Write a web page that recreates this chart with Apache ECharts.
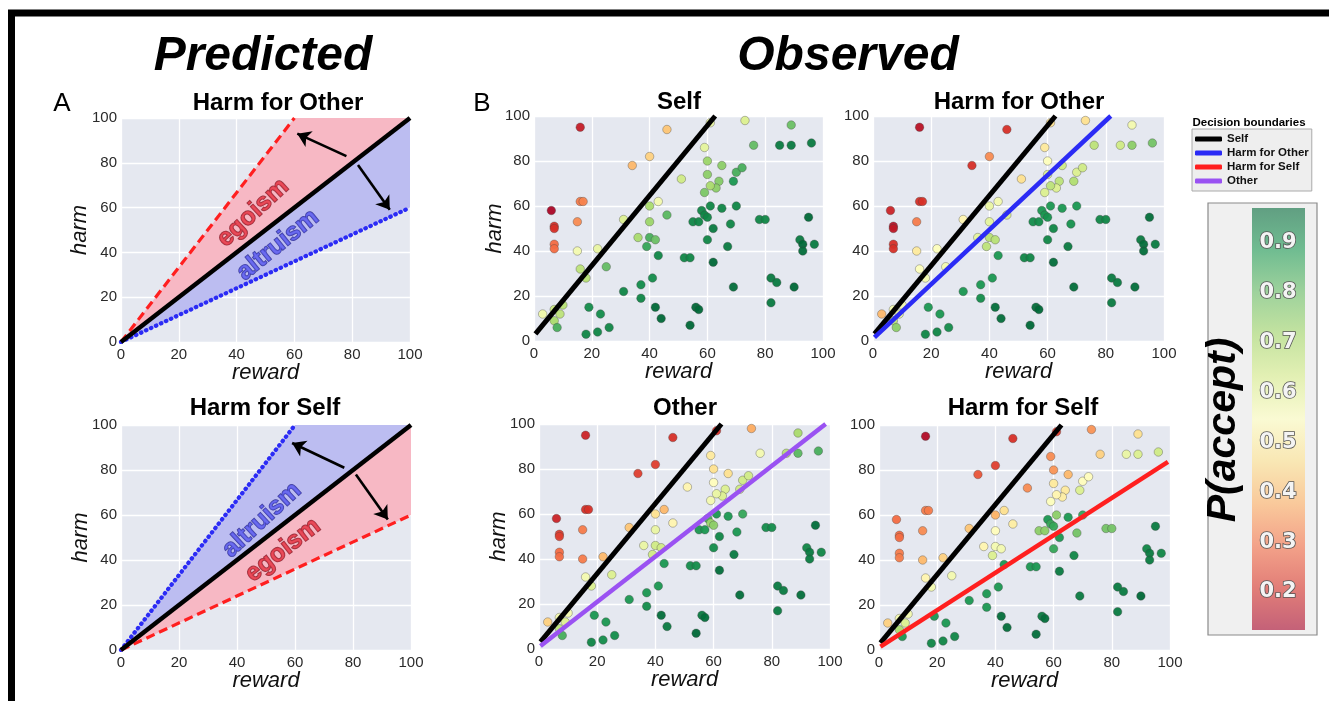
<!DOCTYPE html>
<html><head><meta charset="utf-8">
<script src="https://cdn.jsdelivr.net/npm/echarts@6/dist/echarts.min.js"></script>
<style>html,body{margin:0;padding:0;background:#fff}#c{width:1329px;height:701px}</style>
</head><body><div id="c"></div>
<script>
// ---------------- DATA ----------------
const reward = [16,46,40,34,51,16,17,43,40,46, 6,7,7,15,31,40,7,7,15,22, 36,40,42,39,43,16,18,25,31,37,
  41,37,42,44,3,7,10,9,7,8, 19,23,18,22,26,61,73,89,76,85, 89,96,59,60,65,60,70,72,64,63,
  61,59,69,61,65,70,58,59,60,55, 57,62,68,78,80,95,60,67,92,93, 93,97,52,54,62,69,82,84,90,82, 56,57,54];
const harm = [95,94,82,78,72,62,62,62,60,56, 58,51,50,53,54,53,43,41,40,41, 46,46,45,42,38,32,28,33,22,25,
  28,19,15,10,12,14,16,12,9,6, 15,12,3,4,6,97,98,96,87,87, 87,88,86,80,78,74,75,77,71,68,
  69,66,71,60,59,60,58,56,55,53, 53,50,52,54,54,55,45,42,45,43, 40,43,37,37,35,24,28,26,24,17, 15,14,7];
const pSelf = [.17,.40,.42,.38,.62,.30,.31,.55,.68,.78, .13,.20,.20,.32,.60,.70,.28,.28,.55,.57,
  .68,.80,.76,.82,.88,.65,.66,.77,.88,.87, .87,.88,.95,.93,.56,.63,.66,.65,.68,.80,
  .87,.87,.88,.88,.88,.57,.60,.76,.77,.90, .90,.90,.58,.70,.72,.72,.80,.80,.73,.72,
  .68,.74,.85,.88,.88,.88,.88,.88,.88,.88, .88,.90,.88,.88,.88,.93,.88,.90,.90,.93,
  .92,.90,.88,.88,.95,.92,.90,.90,.95,.90, .95,.95,.95];
const pHarmOther = [.15,.20,.32,.20,.45,.20,.20,.55,.57,.60, .18,.15,.16,.30,.50,.58,.20,.20,.47,.53,
  .58,.66,.66,.65,.85,.53,.55,.55,.85,.85, .85,.87,.92,.92,.38,.55,.55,.57,.65,.72,
  .85,.85,.88,.88,.87,.45,.45,.55,.65,.62, .72,.75,.47,.53,.62,.60,.60,.62,.65,.60,
  .65,.60,.67,.85,.85,.85,.85,.85,.86,.87, .87,.88,.86,.88,.88,.92,.88,.90,.90,.92,
  .92,.90,.88,.88,.92,.92,.90,.90,.92,.90, .92,.93,.93];
const pOther = [.18,.20,.22,.22,.50,.20,.20,.38,.45,.50, .18,.22,.22,.30,.40,.57,.28,.28,.30,.38,
  .57,.62,.62,.62,.85,.55,.60,.60,.85,.85, .85,.87,.92,.90,.42,.55,.55,.60,.65,.80,
  .85,.85,.88,.87,.87,.20,.36,.68,.55,.66, .78,.80,.47,.45,.45,.52,.62,.62,.60,.60,
  .57,.55,.62,.85,.85,.82,.80,.70,.72,.85, .85,.88,.85,.87,.87,.92,.87,.90,.88,.90,
  .90,.88,.87,.87,.92,.92,.90,.90,.92,.90, .90,.92,.93];
const pHarmSelf = [.14,.20,.22,.25,.32,.30,.30,.45,.37,.48, .28,.28,.28,.32,.40,.52,.30,.30,.38,.42,
  .50,.55,.55,.60,.85,.50,.55,.55,.85,.85, .85,.85,.92,.92,.42,.55,.55,.60,.68,.85,
  .85,.85,.88,.88,.88,.22,.33,.45,.42,.57, .60,.62,.32,.33,.38,.47,.52,.52,.47,.48,
  .50,.53,.60,.72,.85,.82,.85,.82,.82,.72, .72,.85,.75,.75,.75,.90,.82,.88,.88,.90,
  .90,.88,.85,.85,.90,.90,.90,.90,.93,.90, .90,.92,.92];

// observed decision boundaries (end points)
const boundarySelf = [[0.5,3.2],[62.7,100]];
const boundaryHarmOther = [[0.5,1.6],[81.7,100]];
const boundaryOther = [[0.5,1.3],[98.5,100]];
const boundaryHarmSelf = [[0.5,1.5],[99.3,83.6]];

// predicted boundaries (panel A)
const predSelf = [[0,0],[100,100]];
const predSteep = [[0,0],[60,100]];
const predShallow = [[0,0],[100,60]];
const regionSteep = [[0,0],[60,100],[100,100]];
const regionShallow = [[0,0],[100,100],[100,60]];
const arrowsA1 = [[[78,83],[61,93]], [[82,79],[93,59]]];
const arrowsA2 = [[[77,81],[59,92]], [[81,78],[92,58]]];
const regionNames = ['egoism','altruism'];
const labelPosA1 = [[45.7,57.6],[54.3,43.3]];
const labelPosA2 = [[55.9,44.4],[48.6,57.8]];

const legendNames = ['Self','Harm for Other','Harm for Self','Other'];
const cbarMin = 0.2, cbarMax = 0.9;
// --------------------------------------

const FONT = "'Liberation Sans', Arial, Helvetica, sans-serif";
const RdYlGn = ['#a50026','#d73027','#f46d43','#fdae61','#fee08b','#ffffbf','#d9ef8b','#a6d96a','#66bd63','#1a9850','#006837'];
const BG = '#e5e8f0';
const C_RED_FILL = '#f7b8c4', C_BLUE_FILL = '#bcbdf1';
const C_BLUE = '#2b2bf5', C_RED = '#ff1f1f', C_PURPLE = '#9a52f2';

const grids = [
  {left:121, top:118, width:289, height:224},
  {left:121, top:425, width:290, height:225},
  {left:534, top:116, width:289, height:225},
  {left:873, top:116, width:291, height:225},
  {left:539, top:424, width:291, height:225},
  {left:879, top:425, width:291, height:225},
  {left:1252, top:243, width:53, height:349}
];
const harmName = [true,true,true,false,true,false];
const harmGap = [30,29,28,0,29,0];

const xAxes = [], yAxes = [];
for (let i=0;i<6;i++){
  xAxes.push({type:'value', gridIndex:i, min:0, max:100, interval:20,
    axisLine:{show:false}, axisTick:{show:false},
    axisLabel:{fontSize:15, color:'#2a2a2a', margin:5, fontFamily:FONT},
    splitLine:{show:true, lineStyle:{color:'#fff', width:1.3}},
    name:'reward', nameLocation:'middle', nameGap:20, nameMoveOverlap:false,
    nameTextStyle:{fontSize:22, fontStyle:'italic', color:'#111', fontFamily:FONT}});
  yAxes.push({type:'value', gridIndex:i, min:0, max:100, interval:20,
    axisLine:{show:false}, axisTick:{show:false},
    axisLabel:{fontSize:15, color:'#2a2a2a', margin:4, fontFamily:FONT},
    splitLine:{show:true, lineStyle:{color:'#fff', width:1.3}},
    name: harmName[i] ? 'harm' : '', nameLocation:'middle', nameGap:harmGap[i], nameRotate:90, nameMoveOverlap:false,
    nameTextStyle:{fontSize:22, fontStyle:'italic', color:'#111', fontFamily:FONT}});
}
xAxes.push({type:'value', gridIndex:6, min:0, max:1, show:false});
yAxes.push({type:'value', gridIndex:6, min:cbarMin, max:cbarMax, interval:0.1, z:10,
  axisLine:{show:false}, axisTick:{show:false}, splitLine:{show:false},
  axisLabel:{inside:true, margin:26, align:'center', fontSize:21, fontWeight:'bold', fontFamily:"'DejaVu Sans', sans-serif",
    color:'#f4f4f4', textBorderColor:'#555', textBorderWidth:1.6, formatter:v=>v.toFixed(1)}});

const series = [];
function poly(gi, verts, color){
  series.push({type:'custom', xAxisIndex:gi, yAxisIndex:gi, data:verts, silent:true, z:1, clip:true,
    renderItem:(params, api)=>{
      if (params.dataIndex!==0) return null;
      return {type:'polygon', shape:{points:verts.map(v=>api.coord(v))}, style:{fill:color}};
    }});
}
function line(gi, pts, color, width, type, name, cap){
  series.push({type:'line', name:name, xAxisIndex:gi, yAxisIndex:gi, data:pts, symbol:'none', silent:true,
    clip:true, z:4, itemStyle:{color:color},
    lineStyle:{color:color, width:width, type:type||'solid', cap:cap||'butt'}});
}
function arrows(gi, arr){
  series.push({type:'lines', coordinateSystem:'cartesian2d', xAxisIndex:gi, yAxisIndex:gi, z:5, silent:true,
    data:arr.map(c=>({coords:c})), symbol:['none','arrow'], symbolSize:[1,13],
    lineStyle:{color:'#000', width:2.6, opacity:1}});
}
function textLabel(gi, pos, text, angle, fill, stroke){
  series.push({type:'scatter', xAxisIndex:gi, yAxisIndex:gi, data:[pos], symbolSize:1, z:6, silent:true,
    itemStyle:{color:'rgba(0,0,0,0)'},
    label:{show:true, position:'inside', formatter:text, rotate:angle, fontSize:25, fontWeight:'bold',
      fontFamily:FONT, color:fill, textBorderColor:stroke, textBorderWidth:1.3}});
}

// Panel A top: Harm for Other
poly(0, regionSteep, C_RED_FILL);
poly(0, regionShallow, C_BLUE_FILL);
line(0, predSteep, C_RED, 3.2, [9,5], 'predSteepA1');
line(0, predShallow, C_BLUE, 4.2, [0.5,5], 'predShallowA1', 'round');
line(0, predSelf, '#000', 4.5, 'solid', 'predSelfA1');
arrows(0, arrowsA1);
textLabel(0, labelPosA1[0], regionNames[0], 43, '#e3303e', '#7a1522');
textLabel(0, labelPosA1[1], regionNames[1], 39, '#5656ee', '#25258a');
// Panel A bottom: Harm for Self
poly(1, regionSteep, C_BLUE_FILL);
poly(1, regionShallow, C_RED_FILL);
line(1, predSteep, C_BLUE, 4.2, [0.5,5], 'predSteepA2', 'round');
line(1, predShallow, C_RED, 3.2, [9,5], 'predShallowA2');
line(1, predSelf, '#000', 4.5, 'solid', 'predSelfA2');
arrows(1, arrowsA2);
textLabel(1, labelPosA2[0], regionNames[0], 38, '#e3303e', '#7a1522');
textLabel(1, labelPosA2[1], regionNames[1], 43, '#5656ee', '#25258a');

// Observed panels
const probs = [pSelf, pHarmOther, pOther, pHarmSelf];
const scatterIdx = [];
for (let k=0;k<4;k++){
  scatterIdx.push(series.length);
  series.push({type:'scatter', xAxisIndex:k+2, yAxisIndex:k+2, z:2, silent:true,
    data: reward.map((x,i)=>[x, harm[i], probs[k][i]]), symbolSize:8.5,
    itemStyle:{opacity:0.95, borderColor:'rgba(70,70,70,0.55)', borderWidth:0.7}});
}
line(2, boundarySelf, '#000', 5, 'solid', 'Self');
line(3, boundarySelf, '#000', 5, 'solid', 'Self');
line(3, boundaryHarmOther, C_BLUE, 4.5, 'solid', 'Harm for Other');
line(4, boundarySelf, '#000', 5, 'solid', 'Self');
line(4, boundaryOther, C_PURPLE, 4.5, 'solid', 'Other');
line(5, boundarySelf, '#000', 5, 'solid', 'Self');
line(5, boundaryHarmSelf, C_RED, 4.5, 'solid', 'Harm for Self');

// colorbar gradient colours (RdYlGn, washed out)
function blend(hex, a){
  const r=parseInt(hex.substr(1,2),16), g=parseInt(hex.substr(3,2),16), b=parseInt(hex.substr(5,2),16);
  const m=v=>Math.round(a*v+(1-a)*242);
  return 'rgb('+m(r)+','+m(g)+','+m(b)+')';
}
const stops = RdYlGn.slice().reverse().map((c,i)=>({offset:i/(RdYlGn.length-1), color:blend(c,0.6)}));

const txt = (x,y,text,size,weight,style,extra)=>Object.assign({type:'text', x:x, y:y, silent:true,
  style:{text:text, align:'center', verticalAlign:'middle', fontSize:size, fontWeight:weight, fontStyle:style||'normal',
    fontFamily:FONT, fill:'#000'}}, extra||{});

const graphics = [
  {type:'rect', shape:{x:11.5, y:13, width:1400, height:800}, style:{fill:'none', stroke:'#000', lineWidth:7}, silent:true},
  txt(263,57,'Predicted',48,'bold','italic'),
  txt(848,57,'Observed',48,'bold','italic'),
  txt(62,104,'A',26,'normal'),
  txt(482,104,'B',26,'normal'),
  txt(278,103,'Harm for Other',24,'bold'),
  txt(265,408,'Harm for Self',24,'bold'),
  txt(679,102,'Self',24,'bold'),
  txt(1019,102,'Harm for Other',24,'bold'),
  txt(685,408,'Other',24,'bold'),
  txt(1023,408,'Harm for Self',24,'bold'),
  txt(1249,123,'Decision boundaries',11.5,'bold'),
  {type:'rect', z:-10, shape:{x:1208, y:203, width:109, height:432}, style:{fill:'#f0f0f0', stroke:'#8a8a8a', lineWidth:1.2}, silent:true},
  {type:'rect', z:-9, shape:{x:1252, y:208, width:53, height:422},
    style:{fill:new echarts.graphic.LinearGradient(0,0,0,1,stops)}, silent:true},
  txt(1224,430,'P(accept)',41,'bold','italic',{rotation:Math.PI/2})
];

const option = {
  animation:false,
  backgroundColor:'#fff',
  grid: grids.map((g,i)=>Object.assign({show:i<6, backgroundColor:BG, borderWidth:0, containLabel:false}, g)),
  xAxis:xAxes, yAxis:yAxes,
  visualMap:[{type:'continuous', show:false, seriesIndex:scatterIdx, dimension:2, min:0.12, max:0.93,
    inRange:{color:RdYlGn}}],
  legend:{data:legendNames, orient:'vertical', left:1192, top:129, itemWidth:27, itemHeight:5, itemGap:2,
    icon:'roundRect', selectedMode:false,
    textStyle:{fontSize:11.5, fontWeight:'bold', color:'#111', fontFamily:FONT, lineHeight:12},
    backgroundColor:'#eeeeee', borderColor:'#aaaaaa', borderWidth:1, padding:[4,3,4,3]},
  series:series,
  graphic:graphics
};
const chart = echarts.init(document.getElementById('c'));
chart.setOption(option);
</script>
</body></html>
